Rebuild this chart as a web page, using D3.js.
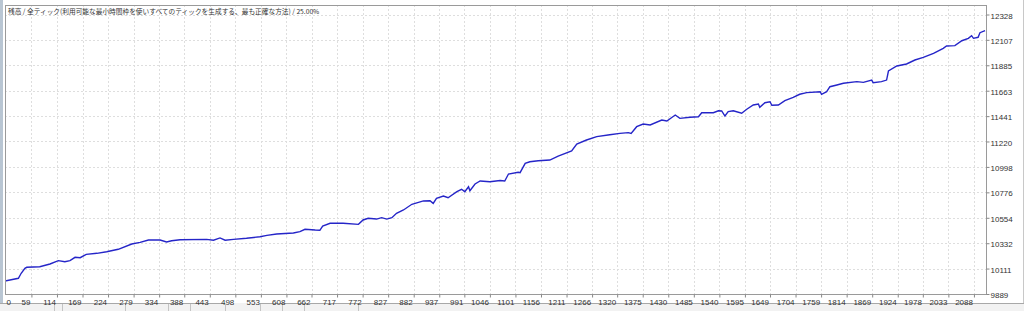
<!DOCTYPE html>
<html>
<head>
<meta charset="utf-8">
<script src="https://cdn.jsdelivr.net/npm/d3@7.9.0/dist/d3.min.js"></script>
<style>
  html, body { margin: 0; padding: 0; background: #ffffff; overflow: hidden; }
  svg { display: block; }
</style>
</head>
<body>
<div id="chart"></div>
<script>
const width = 1024;
const height = 311;
const plot = { left: 5, right: 986, top: 5, bottom: 294 };

const titleText = "残高 / 全ティック(利用可能な最小時間枠を使いすべてのティックを生成する、最も正確な方法) / 25.00%";

const xTicks = [0, 59, 114, 169, 224, 279, 334, 388, 443, 498, 553, 608, 662, 717, 772, 827, 882, 937, 991,
  1046, 1101, 1156, 1211, 1266, 1320, 1375, 1430, 1485, 1540, 1595, 1649, 1704, 1759, 1814, 1869, 1924,
  1978, 2033, 2088];
const yTicks = [9889, 10111, 10332, 10554, 10776, 10998, 11220, 11441, 11663, 11885, 12107, 12328];

// balance curve (trade index, balance)
const tradeIndex = [0, 31, 37, 45, 49, 77, 99, 117, 131, 142, 153, 164, 177, 200, 221, 246, 275, 293, 311, 336,
  350, 361, 379, 436, 451, 465, 476, 494, 522, 551, 566, 587, 623, 637, 648, 670, 680, 686, 702, 730,
  763, 773, 784, 802, 813, 824, 835, 845, 860, 878, 903, 917, 924, 931, 946, 956, 975, 985, 992, 1000,
  1003, 1014, 1025, 1046, 1068, 1078, 1086, 1107, 1111, 1122, 1132, 1150, 1175, 1193, 1222, 1233, 1254, 1276, 1304, 1326,
  1344, 1350, 1362, 1376, 1391, 1416, 1427, 1445, 1455, 1477, 1495, 1502, 1527, 1538, 1545, 1552, 1559, 1570, 1588, 1599,
  1613, 1624, 1627, 1638, 1649, 1653, 1667, 1681, 1699, 1713, 1728, 1757, 1760, 1771, 1778, 1793, 1807, 1836, 1850, 1868,
  1871, 1889, 1900, 1904, 1922, 1943, 1961, 1979, 2001, 2022, 2029, 2047, 2062, 2076, 2083, 2087, 2097, 2101, 2112];
const balance = [10000, 10026, 10070, 10113, 10122, 10127, 10151, 10180, 10171, 10180, 10209, 10206, 10235, 10244, 10258, 10279, 10325, 10340, 10360, 10360,
  10343, 10354, 10363, 10366, 10358, 10378, 10358, 10366, 10375, 10389, 10401, 10413, 10421, 10433, 10454, 10447, 10445, 10482, 10506, 10506,
  10497, 10535, 10550, 10543, 10555, 10543, 10555, 10593, 10622, 10672, 10701, 10703, 10680, 10724, 10744, 10729, 10782, 10803, 10782, 10825,
  10790, 10849, 10875, 10869, 10880, 10875, 10936, 10951, 10948, 11029, 11043, 11052, 11058, 11093, 11137, 11198, 11233, 11262, 11279, 11291,
  11297, 11290, 11349, 11372, 11364, 11407, 11399, 11451, 11422, 11431, 11436, 11471, 11471, 11488, 11486, 11442, 11480, 11488, 11466, 11501,
  11538, 11547, 11518, 11558, 11567, 11536, 11538, 11576, 11605, 11632, 11646, 11654, 11632, 11654, 11698, 11713, 11728, 11742, 11736, 11756,
  11733, 11742, 11756, 11835, 11879, 11896, 11931, 11954, 11989, 12033, 12053, 12056, 12099, 12120, 12143, 12120, 12129, 12169, 12187];

const data = tradeIndex.map((t, i) => ({ t: t, v: balance[i] }));

const svg = d3.select("#chart").append("svg")
  .attr("width", width)
  .attr("height", height);

const x = d3.scaleLinear().domain([0, 2114]).range([4, plot.right]);
const y = d3.scaleLinear().domain([9889, 12328]).range([plot.bottom, 14.5]);

// left side strip
svg.append("rect").attr("x", 0).attr("y", 0).attr("width", 3).attr("height", 303).attr("fill", "#b9c6d3");

// bottom tab strip
svg.append("rect").attr("x", 0).attr("y", 303).attr("width", width).attr("height", 8).attr("fill", "#f2f2f2");
svg.append("line").attr("x1", 0).attr("x2", 225).attr("y1", 303.5).attr("y2", 303.5).attr("stroke", "#a8a8a8");
svg.append("line").attr("x1", 260).attr("x2", width).attr("y1", 303.5).attr("y2", 303.5).attr("stroke", "#a8a8a8");
[54, 62, 125, 168, 190, 225, 260, 282, 304, 358].forEach(sx => {
  svg.append("line").attr("x1", sx + 0.5).attr("x2", sx + 0.5).attr("y1", 304).attr("y2", 311).attr("stroke", "#c4c4c4");
});

// grid
const grid = svg.append("g");
grid.selectAll(".gx")
  .data(xTicks.slice(1))
  .join("line")
  .attr("x1", d => Math.round(x(d)) + 0.5)
  .attr("x2", d => Math.round(x(d)) + 0.5)
  .attr("y1", plot.top)
  .attr("y2", plot.bottom)
  .attr("stroke", "#dedede")
  .attr("stroke-dasharray", "2,2");
grid.selectAll(".gy")
  .data(yTicks.slice(1))
  .join("line")
  .attr("x1", plot.left)
  .attr("x2", plot.right)
  .attr("y1", d => Math.round(y(d)) + 0.5)
  .attr("y2", d => Math.round(y(d)) + 0.5)
  .attr("stroke", "#dedede")
  .attr("stroke-dasharray", "2,2");

// balance line
svg.append("clipPath").attr("id", "clip")
  .append("rect")
  .attr("x", plot.left).attr("y", plot.top)
  .attr("width", plot.right - plot.left).attr("height", plot.bottom - plot.top);

svg.append("path")
  .datum(data)
  .attr("clip-path", "url(#clip)")
  .attr("fill", "none")
  .attr("stroke", "#2525c8")
  .attr("stroke-width", 1.4)
  .attr("d", d3.line().x(d => x(d.t)).y(d => y(d.v)));

// frame
svg.append("rect")
  .attr("x", plot.left + 0.5)
  .attr("y", plot.top + 0.5)
  .attr("width", plot.right - plot.left)
  .attr("height", plot.bottom - plot.top)
  .attr("fill", "none")
  .attr("stroke", "#9a9a9a");

// x axis
const xAxis = svg.append("g")
  .attr("transform", "translate(0," + (plot.bottom + 0.5) + ")")
  .call(d3.axisBottom(x).tickValues(xTicks).tickSize(3).tickSizeOuter(0).tickFormat(d3.format("d")));
xAxis.select(".domain").remove();
xAxis.selectAll("line").attr("stroke", "#888");
xAxis.selectAll("text")
  .attr("text-anchor", (d, i) => i === 0 ? "start" : "end")
  .attr("dx", (d, i) => i === 0 ? 2 : -1.5)
  .attr("y", 10)
  .attr("dy", 0)
  .attr("fill", "#333")
  .style("font-family", "Liberation Sans, Arial, sans-serif")
  .style("font-size", "8px");
xAxis.selectAll(".tick").filter((d, i) => i === 0).select("line").remove();

// y axis
const yAxis = svg.append("g")
  .attr("transform", "translate(" + (plot.right + 0.5) + ",0)")
  .call(d3.axisRight(y).tickValues(yTicks).tickSize(3).tickSizeOuter(0).tickFormat(d3.format("d")));
yAxis.select(".domain").remove();
yAxis.selectAll("line").attr("stroke", "#888");
yAxis.selectAll("text")
  .attr("x", 4)
  .attr("dy", "0.45em")
  .attr("fill", "#333")
  .style("font-family", "Liberation Sans, Arial, sans-serif")
  .style("font-size", "8px");

// title
svg.append("text")
  .attr("x", 8)
  .attr("y", 14)
  .attr("fill", "#333")
  .style("font-family", "Noto Sans CJK JP, sans-serif")
  .style("font-size", "6.7px")
  .text(titleText);

// right edge line
svg.append("line").attr("x1", 1023.5).attr("x2", 1023.5).attr("y1", 0).attr("y2", 303).attr("stroke", "#c8c8c8");
</script>
</body>
</html>
